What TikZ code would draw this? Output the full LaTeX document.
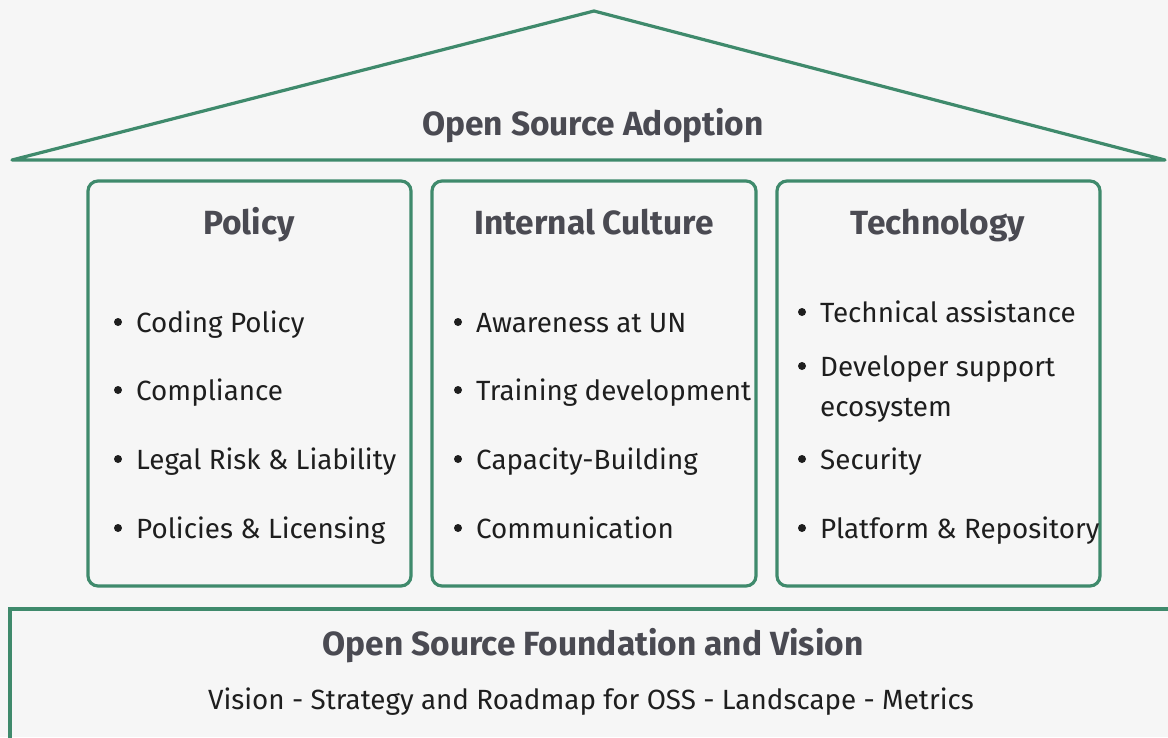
\documentclass[tikz,border=0pt]{standalone}
\usepackage{fontspec}
\setmainfont{Fira Sans}
\definecolor{bg}{HTML}{F6F6F6}
\definecolor{grn}{HTML}{3F8A6C}
\definecolor{hd}{HTML}{4A4A52}
\definecolor{tx}{HTML}{1E1E1E}
\begin{document}
\begin{tikzpicture}[x=1pt,y=-1pt,
  frame/.style={draw=grn,line width=3.2pt},
  pillar/.style={frame,rounded corners=10pt},
  head/.style={font=\fontsize{33.5}{38}\selectfont\bfseries,text=hd,inner sep=0pt},
  item/.style={font=\fontsize{27.8}{32}\selectfont,text=tx,inner sep=0pt,anchor=base west},
  dot/.style={circle,fill=tx,inner sep=0pt,minimum size=8pt}]
\fill[bg] (0,0) rectangle (1168,737);
\useasboundingbox (0,0) rectangle (1168,737);
\begin{scope}
\clip (0,0) rectangle (1168,737);
% roof
\draw[frame,line join=round] (12,160) -- (594,11) -- (1165,160) -- cycle;
% base
\draw[frame] (10,609) rectangle (1200,760);
\end{scope}
% pillars
\draw[pillar] (88,181) rectangle (411,586);
\draw[pillar] (432,181) rectangle (756,586);
\draw[pillar] (777,181) rectangle (1100,586);
\node[head,anchor=base] (roof) at (593,135) {Open Source Adoption};
\node[head,anchor=base] (p) at (249,234) {Policy};
\node[head,anchor=base] (c) at (594,234) {Internal Culture};
\node[head,anchor=base] (t) at (938,234) {Technology};
% policy items
\foreach \y/\t [count=\i] in {332/Coding Policy,400/Compliance,469/Legal Risk \& Liability,538/Policies \& Licensing}{
  \node[dot] (pd\i) at (118,\y-10) {};
  \node[item] (pi\i) at (136,\y) {\t};
}
\foreach \y/\t [count=\i] in {332/Awareness at UN,400/Training development,469/Capacity-Building,538/Communication}{
  \node[dot] (cd\i) at (458,\y-10) {};
  \node[item] (ci\i) at (476,\y) {\t};
}
\foreach \y/\t [count=\i] in {322/Technical assistance,376/Developer support,469/Security,538/Platform \& Repository}{
  \node[dot] (td\i) at (802,\y-10) {};
  \node[item] (ti\i) at (820,\y) {\t};
}
\node[item] (ti5) at (820,416) {ecosystem};
\node[head,anchor=base] (f) at (593,655) {Open Source Foundation and Vision};
\node[item,anchor=base] (fv) at (591,709) {Vision - Strategy and Roadmap for OSS - Landscape - Metrics};
\end{tikzpicture}
\end{document}
